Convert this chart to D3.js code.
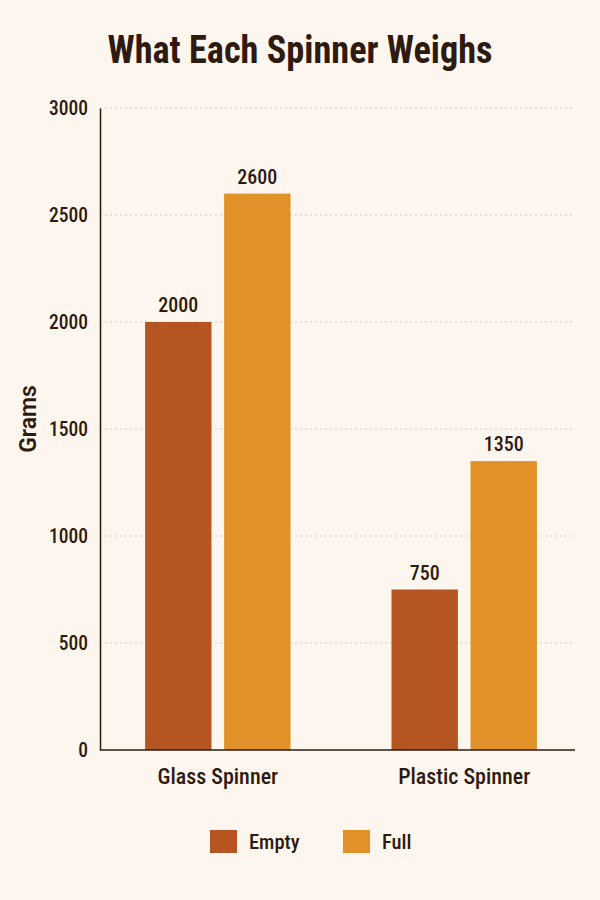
<!DOCTYPE html>
<html>
<head>
<meta charset="utf-8">
<script src="https://cdn.jsdelivr.net/npm/d3@7/dist/d3.min.js"></script>
<style>
  body { margin: 0; background: #fcf6ee; }
  svg { display: block; }
  text { font-stretch: 80%; }
</style>
</head>
<body>
<div id="chart"></div>
<script>
// data
var categories = ["Glass Spinner", "Plastic Spinner"];
var seriesNames = ["Empty", "Full"];
var emptyValues = [2000, 750];
var fullValues = [2600, 1350];
var yTicks = [0, 500, 1000, 1500, 2000, 2500, 3000];

var width = 600, height = 900;
var margin = {top: 108, right: 25, bottom: 150, left: 100};
var colours = {"Empty": "#b55522", "Full": "#e09128"};
var ink = "#2e1a0e";
var font = "Roboto, 'DejaVu Sans', sans-serif";

var rows = categories.map(function(c, i) {
  return {category: c, values: [
    {name: "Empty", value: emptyValues[i]},
    {name: "Full", value: fullValues[i]}
  ]};
});

var svg = d3.select("#chart").append("svg")
  .attr("width", width)
  .attr("height", height)
  .style("font-family", font);

svg.append("rect").attr("width", width).attr("height", height).attr("fill", "#fcf6ee");

var x0 = d3.scaleBand()
  .domain(categories)
  .range([margin.left, 582])
  .paddingInner(0.41)
  .paddingOuter(0.183);

var x1 = d3.scaleBand()
  .domain(seriesNames)
  .range([0, x0.bandwidth()])
  .paddingInner(0.16);

var y = d3.scaleLinear()
  .domain([0, 3000])
  .range([height - margin.bottom, margin.top]);

// title
svg.append("text")
  .attr("x", width / 2)
  .attr("y", 63)
  .attr("text-anchor", "middle")
  .attr("font-size", 39)
  .attr("font-weight", "bold")
  .attr("fill", ink)
  .attr("textLength", 385)
  .attr("lengthAdjust", "spacingAndGlyphs")
  .style("font-stretch", "75%")
  .text("What Each Spinner Weighs");

// dotted grid
svg.append("g").selectAll("line")
  .data(yTicks.filter(function(d){ return d > 0; }))
  .enter().append("line")
  .attr("x1", margin.left)
  .attr("x2", width - margin.right)
  .attr("y1", function(d){ return y(d); })
  .attr("y2", function(d){ return y(d); })
  .attr("stroke", "#cfc8bf")
  .attr("stroke-width", 1)
  .attr("stroke-dasharray", "2,3");

// y axis
var yAxis = svg.append("g")
  .attr("transform", "translate(" + margin.left + ",0)")
  .call(d3.axisLeft(y).tickValues(yTicks).tickFormat(d3.format("d")).tickSize(0).tickPadding(12));
yAxis.select(".domain").attr("stroke", ink).attr("stroke-width", 1.5);
yAxis.selectAll("text")
  .attr("font-size", 19.5)
  .attr("font-weight", 500)
  .attr("font-family", font)
  .attr("fill", ink);

// bars
var groups = svg.append("g").selectAll("g")
  .data(rows)
  .enter().append("g")
  .attr("transform", function(d){ return "translate(" + x0(d.category) + ",0)"; });

groups.selectAll("rect")
  .data(function(d){ return d.values; })
  .enter().append("rect")
  .attr("x", function(d){ return x1(d.name); })
  .attr("y", function(d){ return y(d.value); })
  .attr("width", x1.bandwidth())
  .attr("height", function(d){ return y(0) - y(d.value); })
  .attr("fill", function(d){ return colours[d.name]; });

groups.selectAll("text")
  .data(function(d){ return d.values; })
  .enter().append("text")
  .attr("x", function(d){ return x1(d.name) + x1.bandwidth() / 2; })
  .attr("y", function(d){ return y(d.value) - 10; })
  .attr("text-anchor", "middle")
  .attr("font-size", 20)
  .attr("font-weight", 500)
  .attr("fill", ink)
  .text(function(d){ return d.value; });

// x axis
var xAxis = svg.append("g")
  .attr("transform", "translate(0," + y(0) + ")")
  .call(d3.axisBottom(x0).tickSize(0).tickPadding(18));
xAxis.select(".domain").remove();
svg.append("line")
  .attr("x1", margin.left).attr("x2", width - margin.right)
  .attr("y1", y(0)).attr("y2", y(0))
  .attr("stroke", ink).attr("stroke-width", 1.5);
xAxis.selectAll("text")
  .attr("font-size", 22)
  .attr("font-weight", 500)
  .attr("font-family", font)
  .attr("fill", ink);

// y label
svg.append("text")
  .attr("transform", "translate(36," + 419 + ") rotate(-90)")
  .attr("text-anchor", "middle")
  .attr("font-size", 23)
  .attr("font-weight", 600)
  .attr("fill", ink)
  .style("font-stretch", "100%")
  .text("Grams");

// legend
var legendX = [210, 343];
var legend = svg.append("g").selectAll("g")
  .data(seriesNames)
  .enter().append("g")
  .attr("transform", function(d, i){ return "translate(" + legendX[i] + ",830)"; });
legend.append("rect")
  .attr("width", 27)
  .attr("height", 23)
  .attr("fill", function(d){ return colours[d]; });
legend.append("text")
  .attr("x", 39)
  .attr("y", 19)
  .attr("font-size", 20.5)
  .attr("font-weight", 500)
  .attr("fill", ink)
  .text(function(d){ return d; });
</script>
</body>
</html>
